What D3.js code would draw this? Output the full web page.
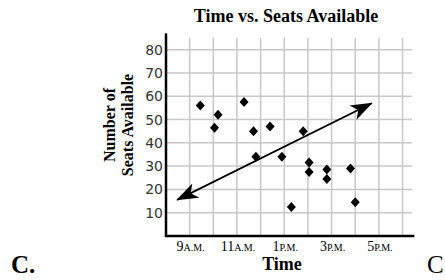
<!DOCTYPE html>
<html>
<head>
<meta charset="utf-8">
<script src="https://cdnjs.cloudflare.com/ajax/libs/d3/7.8.5/d3.min.js"></script>
<style>
  body { margin: 0; background: #fff; }
</style>
</head>
<body>
<script>

// Our data: hours of the day (24h clock) and seats available
var times = [9.45, 10.2, 10.05, 11.3, 11.7, 12.4, 13.8, 11.8, 12.9, 13.3, 14.05, 14.05, 14.8, 14.8, 15.8, 16.0]
var seats = [56, 52, 46.5, 57.5, 45, 47, 45, 34, 34, 12.5, 31.5, 27.5, 28.5, 24.5, 29, 14.5]

// Trend line ends (time, seats)
var trendTimes = [8.47, 16.7]
var trendSeats = [15.5, 57]

// Tick labels
var yTicks = [10, 20, 30, 40, 50, 60, 70, 80]
var xTicks = [9, 11, 13, 15, 17]
var xTickNum = ['9', '11', '1', '3', '5']
var xTickSuffix = ['A.M.', 'A.M.', 'P.M.', 'P.M.', 'P.M.']

var width = 445
var height = 280

var svg = d3.select("body")
    .append("svg")
    .attr("width", width)
    .attr("height", height)

var xScale = d3.scaleLinear()
    .domain([8, 18.4])
    .range([166, 412])

var yScale = d3.scaleLinear()
    .domain([0, 85])
    .range([236, 38])

// Grid lines
var grid = svg.append("g")

grid.selectAll("line.v")
    .data(d3.range(9, 19))
    .join("line")
    .attr("class", "v")
    .attr("x1", d => xScale(d))
    .attr("x2", d => xScale(d))
    .attr("y1", yScale(85))
    .attr("y2", yScale(0))
    .attr("stroke", "#c8c8c8")
    .attr("stroke-width", 1.5)

grid.selectAll("line.h")
    .data(yTicks)
    .join("line")
    .attr("class", "h")
    .attr("x1", xScale(8))
    .attr("x2", xScale(18.4))
    .attr("y1", d => yScale(d))
    .attr("y2", d => yScale(d))
    .attr("stroke", "#c8c8c8")
    .attr("stroke-width", 1.5)

// Axis lines (thick black)
svg.append("line")
    .attr("x1", xScale(8)).attr("x2", xScale(8))
    .attr("y1", yScale(87)).attr("y2", yScale(0) + 1)
    .attr("stroke", "#000").attr("stroke-width", 2.5)

svg.append("line")
    .attr("x1", xScale(8) - 1).attr("x2", xScale(18.5))
    .attr("y1", yScale(0)).attr("y2", yScale(0))
    .attr("stroke", "#000").attr("stroke-width", 2.5)

// Y tick labels
svg.selectAll("text.ytick")
    .data(yTicks)
    .join("text")
    .attr("class", "ytick")
    .attr("x", xScale(8) - 3)
    .attr("y", d => yScale(d) + 5)
    .attr("text-anchor", "end")
    .attr("font-family", "DejaVu Sans")
    .attr("font-size", 14)
    .attr("fill", "#333")
    .text(d => d)

// X tick labels, number plus small caps suffix
var xlab = svg.selectAll("text.xtick")
    .data(xTicks)
    .join("text")
    .attr("class", "xtick")
    .attr("x", d => xScale(d) + 1)
    .attr("y", yScale(0) + 15)
    .attr("text-anchor", "middle")
    .attr("font-family", "Liberation Serif")
    .attr("font-size", 14)
    .attr("fill", "#000")

xlab.append("tspan").text((d, i) => xTickNum[i])
xlab.append("tspan").attr("font-size", 10).text((d, i) => xTickSuffix[i])

// Trend line with arrows on both ends
var defs = svg.append("defs")
defs.append("marker")
    .attr("id", "arrow")
    .attr("viewBox", "0 0 22 16")
    .attr("refX", 21)
    .attr("refY", 8)
    .attr("markerWidth", 22)
    .attr("markerHeight", 16)
    .attr("markerUnits", "userSpaceOnUse")
    .attr("orient", "auto-start-reverse")
    .append("path")
    .attr("d", "M0,0 L22,8 L0,16 L6,8 Z")
    .attr("fill", "#000")

svg.append("line")
    .attr("x1", xScale(trendTimes[0]))
    .attr("y1", yScale(trendSeats[0]))
    .attr("x2", xScale(trendTimes[1]))
    .attr("y2", yScale(trendSeats[1]))
    .attr("stroke", "#000")
    .attr("stroke-width", 1.8)
    .attr("marker-start", "url(#arrow)")
    .attr("marker-end", "url(#arrow)")

// Diamonds for each data point
svg.selectAll("path.pt")
    .data(times)
    .join("path")
    .attr("class", "pt")
    .attr("transform", (d, i) => "translate(" + xScale(d) + "," + yScale(seats[i]) + ")")
    .attr("d", "M0,-5 L4.5,0 L0,5 L-4.5,0 Z")
    .attr("fill", "#000")

// Titles
svg.append("text")
    .attr("x", 286)
    .attr("y", 22)
    .attr("text-anchor", "middle")
    .attr("font-family", "Liberation Serif")
    .attr("font-weight", "bold")
    .attr("font-size", 18)
    .text("Time vs. Seats Available")

svg.append("text")
    .attr("x", 282)
    .attr("y", 270)
    .attr("text-anchor", "middle")
    .attr("font-family", "Liberation Serif")
    .attr("font-weight", "bold")
    .attr("font-size", 18)
    .text("Time")

var ytitle = svg.append("text")
    .attr("transform", "translate(0,125) rotate(-90)")
    .attr("text-anchor", "middle")
    .attr("font-family", "Liberation Serif")
    .attr("font-weight", "bold")
    .attr("font-size", 16)

ytitle.append("tspan").attr("x", 0).attr("y", 115).text("Number of")
ytitle.append("tspan").attr("x", 0).attr("y", 133).text("Seats Available")

// Answer choice letters
svg.append("text")
    .attr("x", 11)
    .attr("y", 273)
    .attr("font-family", "Liberation Serif")
    .attr("font-weight", "bold")
    .attr("font-size", 25)
    .text("C.")

svg.append("text")
    .attr("x", 427)
    .attr("y", 273)
    .attr("font-family", "Liberation Serif")
    .attr("font-size", 25)
    .text("C")

</script>
</body>
</html>
